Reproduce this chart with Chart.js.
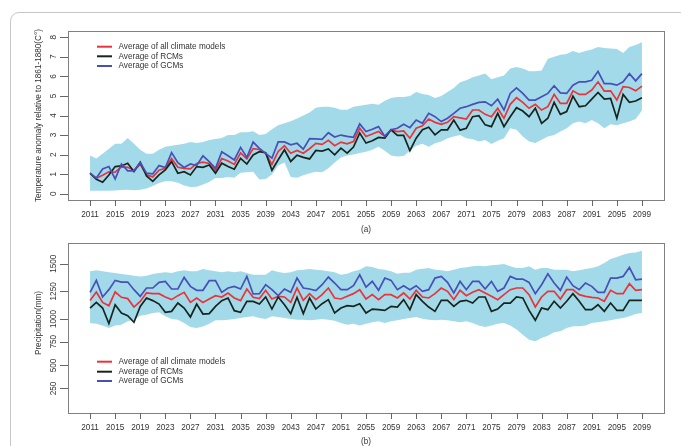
<!DOCTYPE html>
<html><head><meta charset="utf-8">
<script src="https://cdn.jsdelivr.net/npm/chart.js@4.4.1/dist/chart.umd.min.js"></script>
<style>
html,body{margin:0;padding:0;background:#fff;}
#wrap{position:relative;width:681px;height:446px;overflow:hidden;background:#fff;}
#frame{position:absolute;left:10px;top:12px;width:720px;height:500px;border:1px solid #c6c6c6;border-top-left-radius:9px;box-sizing:border-box;}
canvas{position:absolute;left:0;top:0;}
</style></head><body>
<div id="wrap"><div id="frame"></div>
<canvas id="c1" width="681" height="446"></canvas>
<canvas id="c2" width="681" height="446"></canvas>
</div>
<script>
// ---- categories ----
const years = Array.from({length: 89}, (_, i) => 2011 + i);
const xTicks = [2011,2015,2019,2023,2027,2031,2035,2039,2043,2047,2051,2055,2059,2063,2067,2071,2075,2079,2083,2087,2091,2095,2099];
const tempTicks = [0,1,2,3,4,5,6,7,8];
const tempTickAt = [0,1,2,3,4,5,6,7,8];
// precipitation tick labels, and where the reference axis places them on the data scale
const precTicks = [250,500,750,1000,1250,1500];
const precTickAt = [372,580,795,1000,1250,1500];
const legendLabels = ['Average of all climate models','Average of RCMs','Average of GCMs'];

// ---- temperature anomaly (°C) ----
const tempAll = [1.03,0.79,0.95,1.12,1.1,1.37,1.35,1.2,1.5,0.97,0.86,1.2,1.3,1.8,1.35,1.3,1.27,1.55,1.62,1.55,1.18,1.8,1.67,1.5,2.09,1.78,2.31,2.26,2.07,
 1.5,2.16,2.45,2.07,2.21,2.07,2.3,2.57,2.52,2.73,2.46,2.64,2.55,2.67,3.35,2.93,3.05,3.18,2.93,3.27,3.18,3.21,2.84,3.35,3.47,3.82,3.65,3.55,3.65,3.94,3.88,
 3.82,4.28,4.28,4.06,3.94,4.37,3.86,4.57,4.91,4.67,4.37,4.57,4.28,4.45,5.08,4.62,4.62,5.26,5.08,5.08,5.3,5.72,5.25,5.26,4.79,5.47,5.43,5.26,5.5];
const tempRCM = [1.05,0.74,0.59,0.96,1.39,1.42,1.56,1.13,1.61,0.91,0.63,0.96,1.22,1.64,1.05,1.13,0.96,1.39,1.35,1.47,1.05,1.56,1.39,1.25,1.81,1.52,1.98,2.15,2.1,
 1.2,1.74,2.25,1.65,1.97,1.86,1.78,2.21,2.18,2.29,1.99,2.33,2.08,2.39,3.1,2.59,2.71,2.88,2.84,3.27,2.98,2.98,2.2,2.84,3.27,3.4,3.01,3.27,3.27,3.77,3.25,
 3.35,3.94,3.99,3.52,3.43,4.11,3.43,3.94,4.4,4.23,3.94,4.37,3.6,3.86,4.67,4.06,4.2,4.99,4.45,4.5,4.84,5.18,4.84,4.87,3.86,5.08,4.67,4.74,4.91];
const tempGCM = [1.05,0.8,1.27,1.39,0.76,1.52,1.17,1.17,1.59,1.05,1.02,1.44,1.34,2.1,1.59,1.34,1.52,1.44,1.94,1.64,1.3,2.15,1.94,1.73,2.37,1.86,2.64,2.32,2.06,
 1.82,2.65,2.65,2.5,2.58,2.28,2.82,2.8,2.78,3.12,2.9,3.0,2.93,2.88,3.57,3.18,3.3,3.43,2.93,3.27,3.35,3.55,3.38,3.77,3.6,4.11,3.94,3.69,3.86,4.11,4.37,
 4.45,4.57,4.67,4.7,4.5,4.84,4.28,5.13,5.41,5.13,4.79,4.79,4.96,5.13,5.52,5.16,5.13,5.55,5.72,5.72,5.8,6.26,5.63,5.63,5.55,5.72,6.14,5.77,6.14];
const tempHigh = [1.95,1.8,2.05,2.3,2.55,2.55,2.85,2.55,2.25,2.05,2.05,2.25,2.4,2.45,2.5,2.55,2.65,2.6,2.65,2.75,2.8,2.85,3.0,3.0,3.15,3.15,3.2,3.0,3.05,
 3.3,3.5,3.6,3.7,3.85,4.0,4.15,4.4,4.45,4.45,4.4,4.3,4.3,4.45,4.5,4.55,4.6,4.55,4.75,4.9,4.95,4.95,5.0,5.2,5.1,5.05,4.9,5.0,5.2,5.4,5.7,
 5.8,5.95,6.05,6.15,5.85,5.95,6.05,6.4,6.48,6.4,6.26,6.26,6.3,6.9,7.0,7.1,7.15,7.3,7.2,7.3,7.38,7.5,7.45,7.42,7.4,7.2,7.5,7.6,7.75];
const tempLow = [0.15,0.15,0.15,0.15,0.17,0.19,0.2,0.18,0.2,0.27,0.39,0.55,0.64,0.64,0.56,0.42,0.34,0.36,0.47,0.6,0.8,0.8,0.85,0.82,1.07,1.1,1.12,0.73,0.75,
 0.98,1.45,1.6,0.86,0.82,0.95,1.05,1.12,1.1,1.3,1.6,1.85,1.95,2.0,2.08,2.15,2.25,2.4,2.2,1.95,1.9,1.93,2.2,2.45,2.55,2.4,2.58,2.67,2.84,2.93,3.0,
 2.84,2.79,2.67,2.75,2.54,2.71,2.84,3.35,3.27,2.93,2.67,2.59,2.76,2.93,3.0,3.18,3.35,3.6,3.69,3.6,3.77,3.6,3.35,3.55,3.5,3.6,3.69,3.82,4.25];

// ---- precipitation (mm) ----
const precAll = [1168,1244,1150,1120,1244,1196,1184,1108,1159,1235,1229,1229,1199,1175,1211,1241,1150,1190,1150,1181,1211,1199,1235,1190,1166,1271,1196,1184,1259,
 1181,1205,1199,1151,1280,1169,1229,1175,1220,1280,1190,
 1181,1205,1229,1265,1181,1220,1175,1220,1220,1190,1235,1181,1259,1199,1190,1229,1280,1250,1175,1259,1211,1241,1265,1235,1205,1175,1220,1265,1280,1280,1220,1109,1199,1250,1250,1181,1265,1265,1220,1205,1196,1190,1160,1259,1229,1229,1319,1259,1265];
const precRCM = [1099,1150,1099,958,1129,1054,1030,970,1114,1190,1166,1135,1060,1069,1144,1099,1018,1135,1045,1048,1114,1166,1190,1075,1060,1159,1159,1135,1199,
 1090,1199,1129,1048,1196,1048,1190,1090,1138,1175,1054,
 1099,1120,1114,1138,1054,1090,1084,1078,1114,1108,1175,1084,1220,1160,1108,1069,1169,1169,1114,1160,1169,1144,1199,1199,1069,1090,1144,1144,1199,1190,1078,988,1099,1084,1160,1099,1160,1229,1160,1084,1084,1129,1069,1144,1078,1078,1169,1169,1169];
const precGCM = [1241,1349,1199,1265,1349,1334,1334,1265,1205,1280,1280,1331,1340,1271,1271,1376,1295,1259,1259,1346,1346,1241,1280,1295,1271,1385,1226,1229,1310,
 1265,1211,1271,1241,1370,1280,1271,1256,1310,1379,1325,
 1265,1265,1301,1400,1289,1340,1259,1370,1349,1265,1301,1265,1301,1250,1265,1370,1385,1331,1235,1340,1265,1340,1340,1271,1340,1250,1280,1385,1361,1361,1331,1229,1310,1409,1325,1259,1379,1301,1265,1325,1295,1241,1241,1370,1370,1385,1466,1355,1361];
const precHigh = [1431,1440,1431,1422,1416,1407,1401,1392,1385,1392,1407,1416,1422,1416,1431,1440,1431,1431,1452,1440,1431,1422,1431,1422,1431,1416,1400,1400,1400,
 1440,1425,1416,1422,1440,1446,1452,1446,1440,1431,1422,
 1401,1410,1431,1446,1476,1470,1452,1446,1431,1410,1419,1419,1446,1455,1461,1446,1440,1431,1446,1461,1467,1476,1482,1476,1485,1491,1497,1476,1461,1461,1476,1446,1461,1461,1446,1446,1446,1431,1440,1452,1461,1476,1506,1542,1560,1581,1596,1602,1617];
const precLow = [963,958,940,918,940,948,979,994,1030,1039,1054,1060,1024,1000,994,963,927,918,933,958,988,988,994,1000,1009,1018,1024,1009,1000,
 1024,1018,1009,1000,994,994,988,994,1000,994,985,
 964,949,958,940,958,970,979,964,979,988,1000,1009,1018,1003,994,988,994,988,979,970,979,964,940,928,940,958,964,940,904,858,813,798,828,849,879,888,919,934,934,940,964,970,979,988,1000,1009,1024,1045,1054];

// ---- styling ----
const FONT = '"Liberation Sans", Arial, Helvetica, sans-serif';
const BAND = 'rgb(163,218,233)';
const RED = '#e8343a', BLACK = '#17251f', BLUE = '#4650b8';
const lineColors = [RED, BLACK, BLUE];

function pts(arr) { return arr.map((v, i) => ({x: years[i], y: v})); }

function rAxes(o) {
  return {
    id: 'rAxes',
    afterDraw(chart) {
      const {ctx, chartArea: a} = chart;
      const x = chart.scales.x, y = chart.scales.y;
      ctx.save();
      ctx.strokeStyle = '#808080'; ctx.lineWidth = 1;
      ctx.strokeRect(Math.round(a.left) + 0.5, Math.round(a.top) + 0.5, Math.round(a.right - a.left), Math.round(a.bottom - a.top));
      ctx.strokeStyle = '#666';
      ctx.beginPath();
      xTicks.forEach(t => { const px = Math.round(x.getPixelForValue(t)) + 0.5; ctx.moveTo(px, a.bottom); ctx.lineTo(px, a.bottom + 6); });
      o.yTickAt.forEach(t => { const py = Math.round(y.getPixelForValue(t)) + 0.5; ctx.moveTo(a.left, py); ctx.lineTo(a.left - 8, py); });
      ctx.stroke();
      ctx.fillStyle = '#333';
      ctx.font = '8.2px ' + FONT;
      ctx.textAlign = 'center'; ctx.textBaseline = 'middle';
      xTicks.forEach(t => ctx.fillText(String(t), x.getPixelForValue(t), a.bottom + 14.5));
      o.yTicks.forEach((t, i) => {
        ctx.save(); ctx.translate(a.left - 14, y.getPixelForValue(o.yTickAt[i])); ctx.rotate(-Math.PI / 2);
        ctx.fillText(String(t), 0, 0); ctx.restore();
      });
      ctx.save(); ctx.translate(o.titleX, o.titleY); ctx.rotate(-Math.PI / 2);
      ctx.fillText(o.title, 0, 0); ctx.restore();
      ctx.fillText(o.panel, o.panelX, o.panelY);
      // legend
      ctx.textAlign = 'left';
      legendLabels.forEach((lab, i) => {
        const ly = o.legY[i];
        ctx.strokeStyle = lineColors[i]; ctx.lineWidth = 2;
        ctx.beginPath(); ctx.moveTo(97, ly); ctx.lineTo(112, ly); ctx.stroke();
        ctx.fillText(lab, 118.5, ly);
      });
      ctx.restore();
    }
  };
}

function makeChart(id, d, o) {
  return new Chart(document.getElementById(id), {
    type: 'line',
    data: {
      datasets: [
        {data: pts(d.high), borderWidth: 0, pointRadius: 0, fill: '+1', backgroundColor: BAND, borderColor: BAND, order: 10},
        {data: pts(d.low), borderWidth: 0, pointRadius: 0, fill: false, borderColor: BAND, order: 9},
        {label: legendLabels[0], data: pts(d.all), borderColor: RED, borderWidth: 1.7, pointRadius: 0, fill: false, order: 3},
        {label: legendLabels[1], data: pts(d.rcm), borderColor: BLACK, borderWidth: 1.7, pointRadius: 0, fill: false, order: 2},
        {label: legendLabels[2], data: pts(d.gcm), borderColor: BLUE, borderWidth: 1.7, pointRadius: 0, fill: false, order: 1}
      ]
    },
    options: {
      responsive: false, animation: false, devicePixelRatio: 1,
      layout: {padding: o.padding},
      plugins: {legend: {display: false}, tooltip: {enabled: false}},
      elements: {line: {tension: 0}},
      scales: {
        x: {type: 'linear', min: 2007.48, max: 2102.52, display: false},
        y: {type: 'linear', min: o.yMin, max: o.yMax, display: false}
      }
    },
    plugins: [rAxes(o)]
  });
}

makeChart('c1', {high: tempHigh, low: tempLow, all: tempAll, rcm: tempRCM, gcm: tempGCM}, {
  padding: {left: 68, right: 17, top: 31, bottom: 246},
  yMin: -0.32, yMax: 8.32, yTicks: tempTicks, yTickAt: tempTickAt,
  title: 'Temperature anomaly relative to 1861-1880(C\u00B0)', titleX: 38.5, titleY: 115.5,
  panel: '(a)', panelX: 366, panelY: 230,
  legY: [46.7, 56.3, 66]
});
makeChart('c2', {high: precHigh, low: precLow, all: precAll, rcm: precRCM, gcm: precGCM}, {
  padding: {left: 68, right: 17, top: 243, bottom: 33},
  yMin: 150, yMax: 1687, yTicks: precTicks, yTickAt: precTickAt,
  title: 'Precipitation(mm)', titleX: 39, titleY: 323,
  panel: '(b)', panelX: 366, panelY: 441.5,
  legY: [361.7, 371.7, 381]
});
</script>
</body></html>
